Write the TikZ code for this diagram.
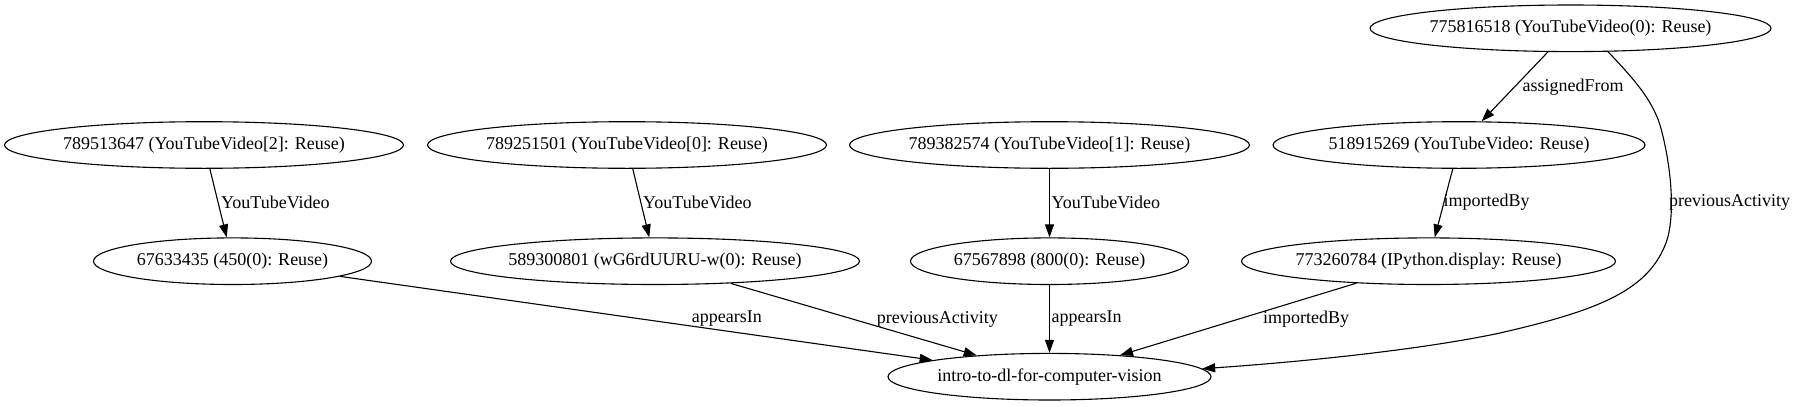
\documentclass[tikz,border=0pt]{standalone}
\usepackage{fontspec}
\setmainfont{Liberation Serif}
\usetikzlibrary{shapes.geometric,arrows.meta}
\newcommand{\nbox}[1]{\makebox[0pt]{#1}}
\begin{document}
\begin{tikzpicture}[x=1pt,y=-1pt,
  nd/.style={ellipse, draw, line width=1.1pt, inner sep=0pt, minimum height=46.6pt, font=\fontsize{18}{21}\selectfont},
  lbl/.style={anchor=west, inner sep=0pt, font=\fontsize{18}{21}\selectfont},
  edge/.style={line width=1.1pt, -{Triangle[length=13pt,width=9pt]}}]
\useasboundingbox (0,0) rectangle (1797,407);
\node[nd, minimum width=401pt] (A) at (1570.5,28.3) {\nbox{775816518 (YouTubeVideo(0): Reuse)}};
\node[nd, minimum width=399pt] (B) at (204,145) {\nbox{789513647 (YouTubeVideo[2]: Reuse)}};
\node[nd, minimum width=399pt] (C) at (627,145) {\nbox{789251501 (YouTubeVideo[0]: Reuse)}};
\node[nd, minimum width=400pt] (D) at (1049.5,145) {\nbox{789382574 (YouTubeVideo[1]: Reuse)}};
\node[nd, minimum width=372pt] (E) at (1459,145) {\nbox{518915269 (YouTubeVideo: Reuse)}};
\node[nd, minimum width=278pt] (F) at (232.5,261.2) {\nbox{67633435 (450(0): Reuse)}};
\node[nd, minimum width=409pt] (G) at (655,261.2) {\nbox{589300801 (wG6rdUURU-w(0): Reuse)}};
\node[nd, minimum width=278pt] (H) at (1049.5,261.2) {\nbox{67567898 (800(0): Reuse)}};
\node[nd, minimum width=374pt] (I) at (1428.5,261.2) {\nbox{773260784 (IPython.display: Reuse)}};
\node[nd, minimum width=323pt] (J) at (1049.5,376.7) {\nbox{intro-to-dl-for-computer-vision}};
\draw[edge] (B) -- (F);
\draw[edge] (C) -- (G);
\draw[edge] (D) -- (H);
\draw[edge] (A) -- (E);
\draw[edge] (E) -- (I);
\draw[edge] (F) -- (J);
\draw[edge] (G) -- (J);
\draw[edge] (H) -- (J);
\draw[edge] (I) -- (J);
\draw[edge] (A.-32) .. controls (1635,80) and (1652,100) .. (1660,125)
  .. controls (1670,160) and (1676,210) .. (1667,240)
  .. controls (1650,290) and (1600,310) .. (1500,333)
  .. controls (1420,350) and (1300,362) .. (J.3);
\node[lbl] (l1) at (221,202) {YouTubeVideo};
\node[lbl] (l2) at (643,202) {YouTubeVideo};
\node[lbl] (l3) at (1051.5,202) {YouTubeVideo};
\node[lbl] (l4) at (1522.5,87) {assignedFrom};
\node[lbl] (l5) at (1669,202) {previousActivity};
\node[lbl] (l6) at (1443.5,202) {importedBy};
\node[lbl] (l7) at (691.7,319) {appearsIn};
\node[lbl] (l8) at (876.6,319) {previousActivity};
\node[lbl] (l9) at (1051.5,319) {appearsIn};
\node[lbl] (l10) at (1263,319) {importedBy};
\end{tikzpicture}
\end{document}
